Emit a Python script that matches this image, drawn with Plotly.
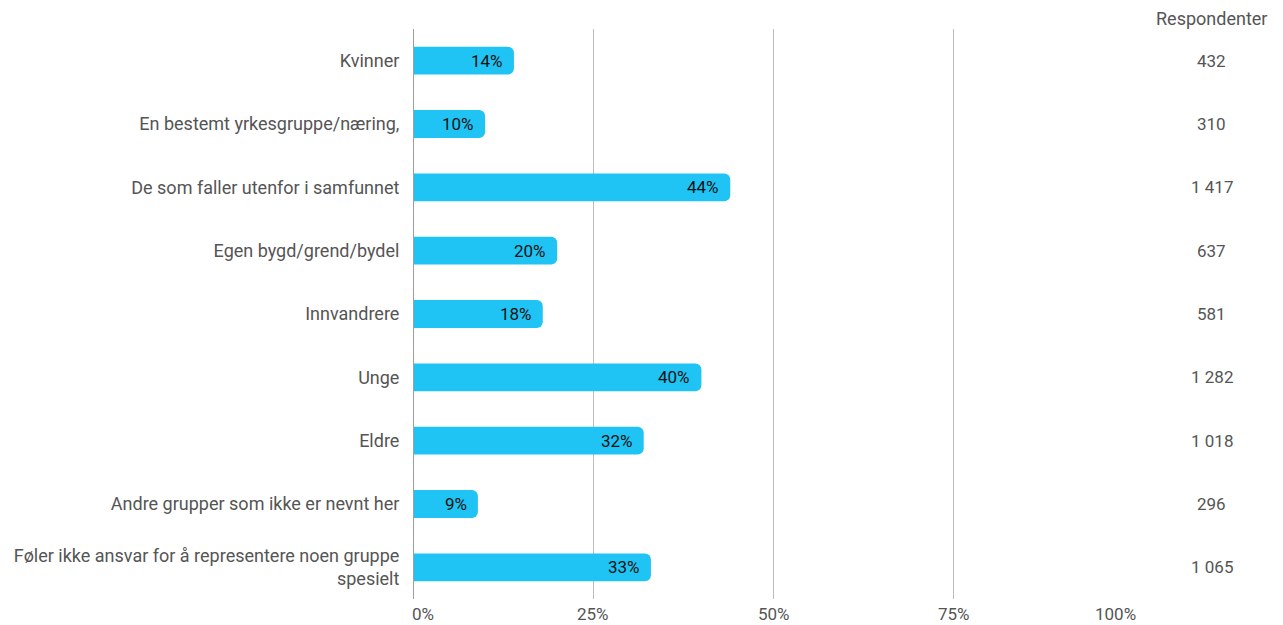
import plotly.graph_objects as go

categories = [
    "Kvinner",
    "En bestemt yrkesgruppe/næring,",
    "De som faller utenfor i samfunnet",
    "Egen bygd/grend/bydel",
    "Innvandrere",
    "Unge",
    "Eldre",
    "Andre grupper som ikke er nevnt her",
    "Føler ikke ansvar for å representere noen gruppe<br>spesielt",
]
shares = [0.14, 0.10, 0.44, 0.20, 0.18, 0.40, 0.32, 0.09, 0.33]
respondents = ["432", "310", "1 417", "637", "581", "1 282", "1 018", "296", "1 065"]
tick_vals = [0, 0.25, 0.5, 0.75, 1.0]
tick_labels = ["0%", "25%", "50%", "75%", "100%"]
resp_header = "Respondenter"

FONT = "Roboto"
GREY = "#555555"

fig = go.Figure()
fig.add_trace(go.Bar(
    y=categories, x=shares, orientation="h",
    marker=dict(color="#1FC4F4", cornerradius=6, line=dict(width=0)),
    width=0.44, hoverinfo="skip",
))

annotations = []
for cat, v, r in zip(categories, shares, respondents):
    annotations.append(dict(x=v, y=cat, xref="x", yref="y", text=f"{round(v*100)}%",
                            showarrow=False, xanchor="right", xshift=-9,
                            font=dict(family=FONT, size=17, color="#111111")))
    annotations.append(dict(x=1.108, y=cat, xref="paper", yref="y", text=r,
                            showarrow=False, xanchor="center",
                            font=dict(family=FONT, size=17, color=GREY)))
annotations.append(dict(x=1.108, y=1, xref="paper", yref="paper", text=resp_header,
                        showarrow=False, xanchor="center", yanchor="bottom", yshift=-2,
                        font=dict(family=FONT, size=18, color=GREY)))
for tv, tl in zip(tick_vals, tick_labels):
    anchor = "left" if tv == tick_vals[0] else ("right" if tv == tick_vals[-1] else "center")
    shift = -2 if tv == tick_vals[0] else (3 if tv == tick_vals[-1] else 0)
    annotations.append(dict(x=tv, y=0, xref="x", yref="paper", text=tl, showarrow=False,
                            xanchor=anchor, yanchor="top", yshift=-4, xshift=shift,
                            borderpad=0,
                            font=dict(family=FONT, size=17, color=GREY)))

fig.update_layout(
    width=1283, height=625,
    margin=dict(l=413, r=149, t=29, b=26),
    paper_bgcolor="white", plot_bgcolor="white",
    showlegend=False, bargap=0.56,
    font=dict(family=FONT, size=18, color=GREY),
    xaxis=dict(range=[0, 1.0], tickvals=tick_vals, showticklabels=False,
               showgrid=True, gridcolor="#BDBDBD", gridwidth=1,
               zeroline=False, showline=False, fixedrange=True),
    yaxis=dict(autorange="reversed", showgrid=False, zeroline=False, showline=False,
               ticks="outside", ticklen=9, tickcolor="rgba(0,0,0,0)",
               tickfont=dict(family=FONT, size=18, color=GREY)),
    annotations=annotations,
    shapes=[dict(type="line", xref="x", yref="paper", x0=0, x1=0, y0=0, y1=1,
                 line=dict(color="#9E9E9E", width=2), layer="above")],
)

fig.write_html("out.html", config={"displayModeBar": False},
               post_script="document.body.style.margin='0px';document.body.style.overflow='hidden';")
